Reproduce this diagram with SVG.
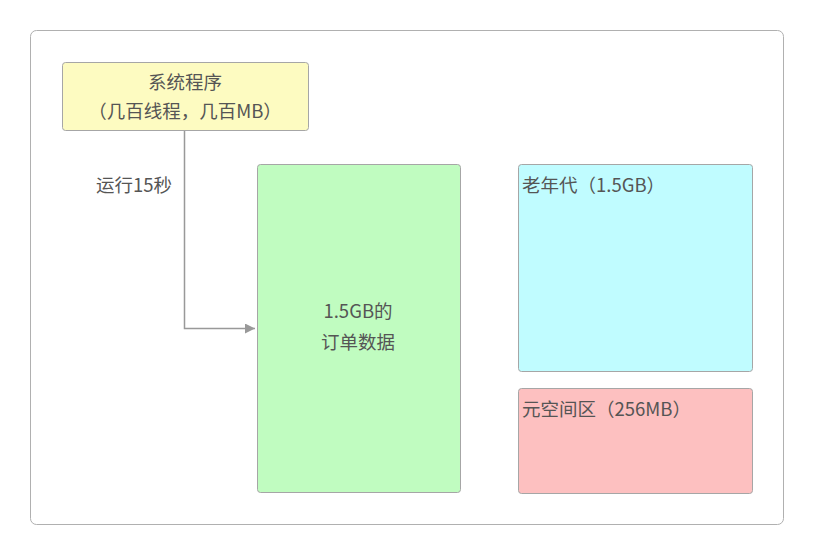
<svg xmlns="http://www.w3.org/2000/svg" width="814" height="555" viewBox="0 0 814 555">
<style>
text{font-family:"Noto Sans CJK SC","Liberation Sans",sans-serif;font-size:18.5px;fill:#555}
.n{stroke:#a6a6a6;stroke-width:1}
</style>
<defs><marker id="a" viewBox="0 0 10 10" refX="10" refY="5" markerWidth="10" markerHeight="10" markerUnits="userSpaceOnUse" orient="auto"><path d="M0,0L10,5L0,10z" fill="#999"/></marker></defs>
<rect width="814" height="555" fill="#fff"/>
<rect x="30.5" y="30.5" width="753" height="494" rx="6" fill="#fff" stroke="#b0b0b0"/>
<g id="connectors"><path d="M184.5,130V328.5H255" fill="none" stroke="#999" stroke-width="1.5" marker-end="url(#a)"/><text x="134" y="192" text-anchor="middle">运行15秒</text></g>
<g id="sys"><rect class="n" x="62.5" y="62.5" width="246" height="68" rx="3" fill="#fdfbc1"/><text x="185" y="89" text-anchor="middle">系统程序</text><text x="185" y="118" text-anchor="middle">（几百线程，几百MB）</text></g>
<g id="data"><rect class="n" x="257.5" y="164.5" width="203" height="328" rx="3" fill="#c0fcc0"/><text x="358" y="318" text-anchor="middle">1.5GB的</text><text x="358" y="349" text-anchor="middle">订单数据</text></g>
<g id="old"><rect class="n" x="518.5" y="164.5" width="234" height="207" rx="3" fill="#c0fcff"/><text x="522" y="192">老年代（1.5GB）</text></g>
<g id="meta"><rect class="n" x="518.5" y="388.5" width="234" height="105" rx="3" fill="#fdc0c0"/><text x="522" y="416">元空间区（256MB）</text></g>
</svg>
